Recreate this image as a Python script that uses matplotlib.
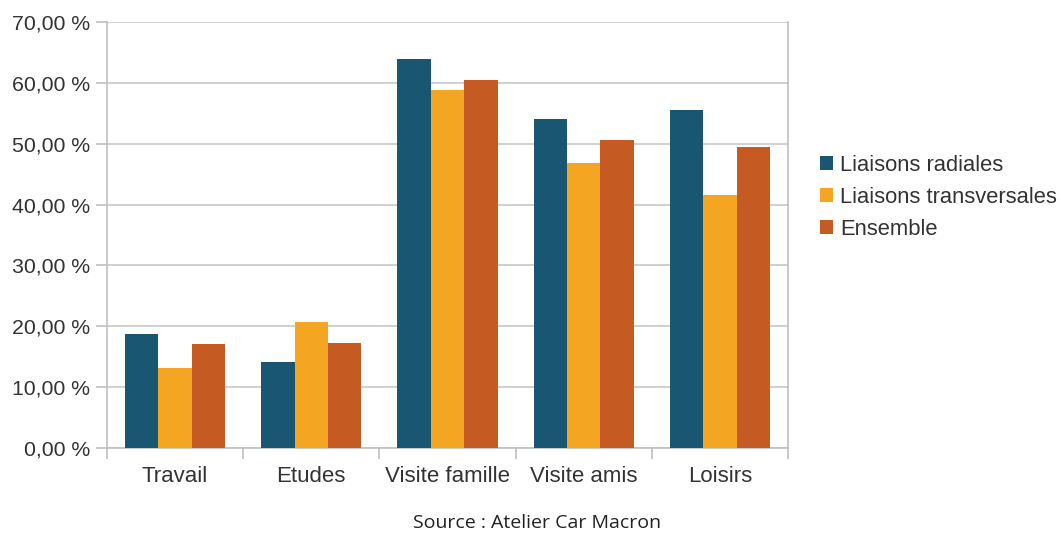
import matplotlib
matplotlib.use("Agg")
import matplotlib.pyplot as plt
import numpy as np
from matplotlib.ticker import FuncFormatter, FixedLocator, NullFormatter

categories = ["Travail", "Etudes", "Visite famille", "Visite amis", "Loisirs"]
series_names = ["Liaisons radiales", "Liaisons transversales", "Ensemble"]
radiales = [18.7, 14.1, 64.0, 54.1, 55.5]
transversales = [13.2, 20.7, 58.8, 46.9, 41.5]
ensemble = [17.1, 17.3, 60.5, 50.6, 49.5]
colors = ["#195671", "#f4a521", "#c55b23"]

plt.rcParams["font.family"] = ["Liberation Sans", "DejaVu Sans"]

fig = plt.figure(figsize=(10.61, 5.36), dpi=100)
ax = fig.add_axes([107 / 1061, 1 - 448 / 536, (788 - 107) / 1061, (448 - 22) / 536])

x = np.arange(len(categories))
w = 0.245
for i, (vals, name) in enumerate(zip([radiales, transversales, ensemble], series_names)):
    ax.bar(x + (i - 1) * w, vals, width=w, color=colors[i], label=name, zorder=3)

ax.set_xlim(-0.5, len(categories) - 0.5)
ax.set_ylim(0, 70)
ax.set_yticks(np.arange(0, 71, 10))
ax.yaxis.set_major_formatter(FuncFormatter(lambda v, p: f"{v:.2f}".replace(".", ",") + " %"))
ax.grid(axis="y", color="#c8c8c8", linewidth=1.2, zorder=0)

# category separators as ticks, labels centered
ax.xaxis.set_major_locator(FixedLocator(np.arange(-0.5, len(categories), 1)))
ax.xaxis.set_major_formatter(NullFormatter())
ax.xaxis.set_minor_locator(FixedLocator(x))
ax.set_xticklabels(categories, minor=True)
ax.tick_params(axis="x", which="minor", length=0, pad=13, labelsize=16, labelcolor="#333333")
ax.tick_params(axis="x", which="major", length=8, color="#c0c0c0", width=1.2)
ax.tick_params(axis="y", length=8, color="#c0c0c0", width=1.2, pad=4, labelsize=15.3, labelcolor="#333333")

for s in ["left", "right", "bottom", "top"]:
    ax.spines[s].set_color("#c0c0c0")
    ax.spines[s].set_linewidth(1.2)
ax.spines["top"].set_visible(False)

leg = fig.legend(loc="upper left", bbox_to_anchor=(811 / 1061, 1 - 146 / 536), frameon=False,
                 fontsize=15.8, handlelength=0.62, handleheight=0.62, handletextpad=0.3,
                 labelspacing=0.5, borderaxespad=0)
for t in leg.get_texts():
    t.set_color("#333333")

fig.text(537 / 1061, 1 - 523 / 536, "Source : Atelier Car Macron", ha="center", va="center",
         fontsize=14, color="#222222", family=["Open Sans", "DejaVu Sans"])

fig.savefig("out.png", dpi=100)
